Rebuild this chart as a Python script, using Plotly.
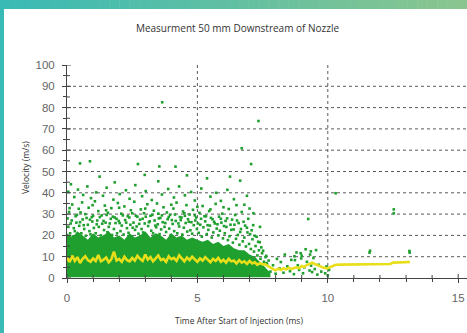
import plotly.graph_objects as go

# ---- data -------------------------------------------------------------
# Upper edge of the dense droplet cloud (time ms, velocity m/s)
core_t = [0.0, 0.2, 0.4, 0.6, 0.8, 1.0, 1.2, 1.4, 1.6, 1.8, 2.0, 2.2, 2.4, 2.6,
          2.8, 3.0, 3.2, 3.4, 3.6, 3.8, 4.0, 4.2, 4.4, 4.6, 4.8, 5.0, 5.2, 5.4,
          5.6, 5.8, 6.0, 6.2, 6.4, 6.6, 6.8, 7.0, 7.2, 7.4, 7.6, 7.8]
core_top = [21, 19, 22, 20, 18, 21, 19, 20, 22, 19, 20, 18, 21, 19,
            20, 22, 19, 21, 20, 18, 21, 19, 20, 18, 19, 18, 17, 18,
            16, 17, 15, 16, 14, 13, 13, 11, 10, 7.5, 5, 2.5]
core_floor = 0.3

# Individual droplets above the dense cloud and after injection end
droplets = [
    (0.05, 24), (0.12, 21), (0.18, 27), (0.22, 19.5), (0.3, 22), (0.36, 26),
    (0.41, 20), (0.47, 24.5), (0.55, 21), (0.6, 27.5), (0.66, 23), (0.72, 19.8),
    (0.8, 25), (0.86, 22), (0.9, 20.5), (0.97, 26.5), (1.03, 23.5), (1.1, 21),
    (1.16, 27), (1.22, 24), (1.3, 20), (1.35, 25.5), (1.42, 22.5), (1.48, 26),
    (1.55, 21.5), (1.6, 24), (1.68, 27.8), (1.73, 20.2), (1.8, 23), (1.86, 25.8),
    (1.92, 21), (1.98, 26.8), (2.05, 22), (2.1, 24.6), (2.17, 20.4), (2.23, 27.2),
    (2.3, 23.4), (2.36, 21.2), (2.43, 25), (2.48, 19.6), (2.55, 26), (2.61, 22.6),
    (2.67, 24.2), (2.74, 20.8), (2.8, 27.4), (2.86, 23), (2.92, 21.4), (2.98, 25.6),
    (3.05, 20), (3.11, 24.4), (3.17, 26.6), (3.23, 22.2), (3.3, 21), (3.36, 27),
    (3.42, 23.8), (3.48, 25.2), (3.55, 20.6), (3.61, 22.8), (3.67, 26.2), (3.74, 24),
    (3.8, 21.6), (3.86, 27.6), (3.92, 23.2), (3.98, 20.2), (4.05, 25.4), (4.11, 22),
    (4.17, 26.8), (4.23, 21), (4.3, 24.2), (4.36, 27.2), (4.42, 20.4), (4.48, 23.6),
    (4.55, 25.8), (4.61, 21.8), (4.67, 26.4), (4.73, 22.4), (4.8, 20.8), (4.86, 24.8),
    (4.92, 27), (4.98, 23), (5.05, 21.2), (5.11, 25), (5.17, 19.4), (5.23, 23.8),
    (5.3, 26.6), (5.36, 20.6), (5.42, 22.6), (5.48, 24.6), (5.55, 19), (5.61, 21.4),
    (5.67, 25.6), (5.74, 23.2), (5.8, 20), (5.86, 22.2), (5.92, 26), (5.98, 18.6),
    (6.05, 21), (6.11, 24), (6.17, 17.8), (6.23, 19.6), (6.3, 22.6), (6.36, 16.6),
    (6.42, 25), (6.48, 18.4), (6.55, 20.2), (6.61, 15.6), (6.67, 23), (6.74, 17.2),
    (6.8, 19), (6.86, 14.8), (6.92, 21.4), (6.98, 16), (7.05, 13.6), (7.11, 18.2),
    (7.17, 12.4), (7.23, 15), (7.3, 10.6), (7.36, 13), (7.42, 9), (7.48, 11.6),
    (7.55, 7.6), (7.61, 9.8), (7.67, 6.4), (7.73, 8.2),
    (0.02, 28), (0.14, 25.6), (0.26, 23.4), (0.38, 29.6), (0.5, 26.2), (0.64, 24.8),
    (0.75, 28.2), (0.88, 27.4), (1.0, 29.2), (1.14, 25.2), (1.26, 28.6), (1.4, 26.8),
    (1.52, 29.6), (1.64, 25.6), (1.76, 28.8), (1.9, 27.8), (2.02, 25.8), (2.14, 29.4),
    (2.27, 26), (2.39, 28.4), (2.52, 23.6), (2.64, 29.2), (2.77, 25.4), (2.9, 27.8),
    (3.02, 28.8), (3.14, 26.2), (3.27, 29.6), (3.39, 24.6), (3.52, 28), (3.64, 29.4),
    (3.77, 25.8), (3.9, 28.6), (4.02, 27.2), (4.14, 29.8), (4.27, 25.6), (4.39, 28.4),
    (4.52, 29.2), (4.64, 27.6), (4.77, 26.2), (4.9, 29.4), (5.02, 25.6), (5.14, 27.8),
    (5.27, 29), (5.39, 24.8), (5.52, 28.2), (5.64, 26.4), (5.77, 25.2), (5.9, 27.8),
    (6.02, 24.4), (6.14, 28), (6.27, 25), (6.39, 22.8), (6.52, 27), (6.64, 21.6),
    (6.77, 26.4), (6.9, 23.6), (7.02, 20.6), (7.14, 24.8), (7.27, 19.4), (7.39, 16.8),
    (7.52, 12.8), (7.64, 10.4),
    (0.08, 31), (0.2, 34.5), (0.33, 29), (0.45, 32.5), (0.58, 35.5), (0.7, 30),
    (0.83, 33), (0.95, 28.6), (1.07, 36), (1.2, 31.4), (1.33, 29.4), (1.45, 34),
    (1.57, 30.6), (1.7, 32.8), (1.83, 28.4), (1.95, 35.2), (2.08, 30.2), (2.2, 33.6),
    (2.33, 29), (2.45, 31.8), (2.58, 35.8), (2.7, 28.8), (2.83, 32.2), (2.95, 30.4),
    (3.08, 34.6), (3.2, 29.2), (3.33, 31.6), (3.45, 35), (3.58, 28.2), (3.7, 33.2),
    (3.83, 30.8), (3.95, 29.6), (4.08, 32.6), (4.2, 35.4), (4.33, 28.6), (4.45, 31.2),
    (4.58, 34.2), (4.7, 29.8), (4.83, 32), (4.95, 28.4), (5.08, 30.6), (5.2, 33.8),
    (5.33, 29), (5.45, 31.4), (5.58, 27.6), (5.7, 34.8), (5.83, 28.8), (5.95, 30.2),
    (6.08, 26.8), (6.2, 32.4), (6.33, 27.4), (6.45, 29.6), (6.58, 25.8), (6.7, 31),
    (6.83, 24.6), (6.95, 27.8), (7.08, 22.4), (7.2, 19.8), (7.33, 17), (7.45, 14.4),
    (0.1, 32.8), (0.52, 30.8), (0.98, 34.2), (1.5, 31.8), (2.0, 33), (2.5, 30.4),
    (3.0, 32.6), (3.5, 30.2), (4.0, 34.4), (4.5, 30.4), (5.0, 33.4), (5.5, 32.2),
    (6.0, 33.2), (6.5, 34.2), (7.0, 32.6),
    (0.05, 40.5), (0.15, 44), (0.28, 38), (0.42, 41.5), (0.62, 39), (0.78, 43),
    (0.92, 37.5), (1.12, 40.2), (1.38, 38.6), (1.52, 42.4), (1.78, 36.8), (1.83, 44.9),
    (2.02, 39.4), (2.26, 41.2), (2.4, 37.2), (2.62, 43.6), (2.88, 38.4), (3.02, 40.8),
    (3.25, 36.6), (3.5, 45.4), (3.64, 39.2), (3.88, 41.8), (4.1, 37.8), (4.3, 43),
    (4.52, 38.8), (4.76, 40.4), (4.9, 36.4), (5.15, 42), (5.37, 46.8), (5.5, 38.2),
    (5.72, 40), (5.9, 36.2), (6.15, 41.4), (6.4, 37), (6.64, 45.7), (6.8, 34.4),
    (6.9, 38.6), (7.15, 30.4), (7.4, 24),
    (0.5, 53.8), (0.88, 54.8), (2.72, 53.5), (2.98, 48.4), (3.54, 52.4), (4.16, 52.3),
    (3.65, 82.5), (7.34, 73.7), (6.7, 60.9), (7.06, 53.5), (1.25, 47.6), (4.6, 48.2),
    (6.25, 47.6),
    (7.8, 3), (7.9, 6), (8.0, 2), (8.05, 9), (8.15, 4.5), (8.2, 7.5), (8.3, 2.5),
    (8.35, 11), (8.45, 5.5), (8.55, 3.2), (8.6, 8.5), (8.7, 1.8), (8.8, 12), (8.85, 6),
    (8.9, 3.8), (9.0, 10.5), (9.05, 2.2), (9.1, 5), (9.15, 13.5), (9.2, 7.6), (9.3, 3.5),
    (9.35, 12.5), (9.4, 2.8), (9.45, 9.4), (9.5, 4.2), (9.55, 13.1), (9.6, 1.6),
    (9.65, 6.2), (9.75, 3), (9.9, 2.2), (9.95, 5.4), (10.0, 1.2), (10.05, 3.8),
    (8.72, 10.2), (8.74, 8.4), (8.96, 11.6), (8.98, 9.2), (9.32, 11), (9.36, 5.8),
    (9.25, 27.7), (10.3, 39.8), (11.6, 11.9), (11.62, 12.8), (12.53, 32.2),
    (12.53, 30.4), (13.13, 12.7), (13.14, 11.9), (7.55, 4.5), (7.65, 7),
]

# Running mean velocity (time ms, velocity m/s)
mean_curve = [
    (0.0, 9.5), (0.1, 7.5), (0.2, 10.5), (0.3, 8), (0.4, 9.8), (0.5, 7), (0.6, 9),
    (0.7, 10.2), (0.8, 8.4), (0.9, 7.6), (1.0, 9.2), (1.1, 8), (1.2, 10.8), (1.3, 7.8),
    (1.4, 8.6), (1.5, 9.6), (1.6, 7.4), (1.7, 8.8), (1.8, 12.4), (1.9, 8.2), (2.0, 9),
    (2.1, 7.6), (2.2, 10), (2.3, 8.4), (2.4, 7.8), (2.5, 9.4), (2.6, 8.2), (2.7, 10.4),
    (2.8, 9), (2.9, 8), (3.0, 11), (3.1, 8.6), (3.2, 9.8), (3.3, 7.8), (3.4, 9.2),
    (3.5, 10.6), (3.6, 8.4), (3.7, 9), (3.8, 7.6), (3.9, 10.2), (4.0, 8.8), (4.1, 9.4),
    (4.2, 8), (4.3, 10.6), (4.4, 9.2), (4.5, 7.8), (4.6, 9.6), (4.7, 8.4), (4.8, 10),
    (4.9, 8.8), (5.0, 7.6), (5.1, 9.2), (5.2, 8.2), (5.3, 9.8), (5.4, 8.6), (5.5, 7.4),
    (5.6, 9), (5.7, 8), (5.8, 9.4), (5.9, 7.6), (6.0, 8.6), (6.1, 7.2), (6.2, 9),
    (6.3, 7.8), (6.4, 8.2), (6.5, 6.8), (6.6, 8.4), (6.7, 7.2), (6.8, 7.8), (6.9, 6.6),
    (7.0, 8), (7.1, 6.8), (7.2, 7.4), (7.3, 6.2), (7.4, 7), (7.5, 6.4),
    (7.6, 6.4), (7.7, 5.6), (7.8, 4.6), (7.9, 4.2), (8.0, 3.6), (8.1, 4.4), (8.2, 3.8),
    (8.3, 4.6), (8.4, 4), (8.5, 4.8), (8.6, 4.2), (8.8, 5), (8.9, 4.6), (9.0, 5.6),
    (9.1, 5.2), (9.2, 6.2), (9.3, 6.6), (9.4, 7.2), (9.5, 6.6), (9.6, 6.2), (9.7, 5.6),
    (9.8, 5), (9.9, 4.6), (10.0, 4.6), (10.1, 5.2), (10.3, 6.2), (10.5, 6.3),
    (11.0, 6.4), (11.5, 6.4), (12.0, 6.5), (12.4, 6.6), (12.5, 7.2), (12.8, 7.3),
    (13.15, 7.5),
]

x_ticks = [0, 5, 10, 15]
x_minor = [1, 2, 3, 4, 6, 7, 8, 9, 11, 12, 13, 14]
x_grid = [5, 10]
y_ticks = [0, 10, 20, 30, 40, 50, 60, 70, 80, 90, 100]
y_minor = [5, 15, 25, 35, 45, 55, 65, 75, 85, 95]
y_grid = [10, 20, 30, 40, 50, 60, 70, 80, 90]

# ---- styling ----------------------------------------------------------
W, H = 467, 333
M_L, M_R, M_T, M_B = 67, 0, 65, 55
PW, PH = W - M_L - M_R, H - M_T - M_B
GREEN = "#1e9f2e"
YELLOW = "#e8df1a"
AXIS = "#444444"
GRID = "#5a5a5a"
TICKFONT = dict(family="Liberation Sans, Arial, sans-serif", size=11.5, color="#666666")
TEXTFONT = "Open Sans, Noto Sans, sans-serif"

x_range = [0, PW / 26.08]
y_range = [0, 100]


def px_x(px):
    return (px - M_L) / PW


def px_y(py):
    return (H - M_B - py) / PH


fig = go.Figure()

# dense cloud as a filled band
fig.add_trace(go.Scatter(
    x=core_t + core_t[::-1],
    y=core_top + [core_floor] * len(core_t),
    fill="toself", fillcolor=GREEN, mode="lines",
    line=dict(width=0, color=GREEN), hoverinfo="skip", showlegend=False,
))

fig.add_trace(go.Scatter(
    x=[p[0] for p in droplets], y=[p[1] for p in droplets],
    mode="markers", marker=dict(symbol="square", size=2.6, color=GREEN),
    showlegend=False,
))

fig.add_trace(go.Scatter(
    x=[p[0] for p in mean_curve], y=[p[1] for p in mean_curve],
    mode="lines", line=dict(color=YELLOW, width=2.6), showlegend=False,
))

shapes = []

# dotted grid behind the data
for v in y_grid:
    shapes.append(dict(type="line", xref="x", yref="y", layer="below",
                       x0=x_range[0], x1=x_range[1], y0=v, y1=v,
                       line=dict(color=GRID, width=1, dash="dot")))
for v in x_grid:
    shapes.append(dict(type="line", xref="x", yref="y", layer="below",
                       x0=v, x1=v, y0=y_range[0], y1=y_range[1],
                       line=dict(color=GRID, width=1, dash="dot")))

# inner halves of the tick marks (outer halves come from the axes)
for v, ln in [(t, 4) for t in y_ticks] + [(t, 3) for t in y_minor]:
    shapes.append(dict(type="line", xref="x", yref="y", xsizemode="pixel",
                       xanchor=0, x0=0, x1=ln, y0=v, y1=v, layer="above",
                       line=dict(color=AXIS, width=1)))
for v, ln in [(t, 4) for t in x_ticks] + [(t, 3) for t in x_minor]:
    shapes.append(dict(type="line", xref="x", yref="y", ysizemode="pixel",
                       yanchor=0, y0=0, y1=ln, x0=v, x1=v, layer="above",
                       line=dict(color=AXIS, width=1)))

# page frame: teal strip on the left, teal-to-green bar on top
c0, c1 = (58, 186, 181), (138, 197, 143)
steps = 47
for i in range(steps):
    f = i / (steps - 1)
    col = "rgb(%d,%d,%d)" % tuple(round(a + (b - a) * f) for a, b in zip(c0, c1))
    shapes.append(dict(type="rect", xref="paper", yref="paper", layer="above",
                       x0=px_x(i * W / steps), x1=px_x((i + 1) * W / steps + 0.5),
                       y0=px_y(9), y1=px_y(0), line=dict(width=0), fillcolor=col))
shapes.append(dict(type="rect", xref="paper", yref="paper", layer="above",
                   x0=px_x(0), x1=px_x(4), y0=px_y(H), y1=px_y(0),
                   line=dict(width=0), fillcolor="rgb(58,186,181)"))

fig.update_layout(
    width=W, height=H,
    margin=dict(l=M_L, r=M_R, t=M_T, b=M_B),
    paper_bgcolor="white", plot_bgcolor="white",
    title=dict(text="Measurment 50 mm Downstream of Nozzle",
               font=dict(family=TEXTFONT, size=10, color="#333333"),
               x=237.5 / W, xanchor="center", xref="container",
               y=1 - 28 / H, yanchor="middle", yref="container"),
    xaxis=dict(range=x_range, tickvals=x_ticks, ticks="outside", ticklen=4,
               tickcolor=AXIS, showline=True, linecolor=AXIS, linewidth=1,
               showgrid=False, zeroline=False, tickfont=TICKFONT,
               ticklabelstandoff=5,
               minor=dict(tickvals=x_minor, ticks="outside", ticklen=3, tickcolor=AXIS)),
    yaxis=dict(range=y_range, tickvals=y_ticks, ticks="outside", ticklen=4,
               tickcolor=AXIS, showline=True, linecolor=AXIS, linewidth=1,
               showgrid=False, zeroline=False, tickfont=TICKFONT,
               ticklabelstandoff=5,
               minor=dict(tickvals=y_minor, ticks="outside", ticklen=3, tickcolor=AXIS)),
    shapes=shapes,
    annotations=[
        dict(text="Time After Start of Injection (ms)", xref="paper", yref="paper",
             x=px_x(239), y=px_y(320), xanchor="center", yanchor="middle",
             showarrow=False, font=dict(family=TEXTFONT, size=8.5, color="#333333")),
        dict(text="Velocity (m/s)", xref="paper", yref="paper", textangle=-90,
             x=px_x(25), y=px_y(168), xanchor="center", yanchor="middle",
             showarrow=False, font=dict(family=TEXTFONT, size=8.5, color="#333333")),
    ],
    showlegend=False,
)

fig.write_html("out.html")
